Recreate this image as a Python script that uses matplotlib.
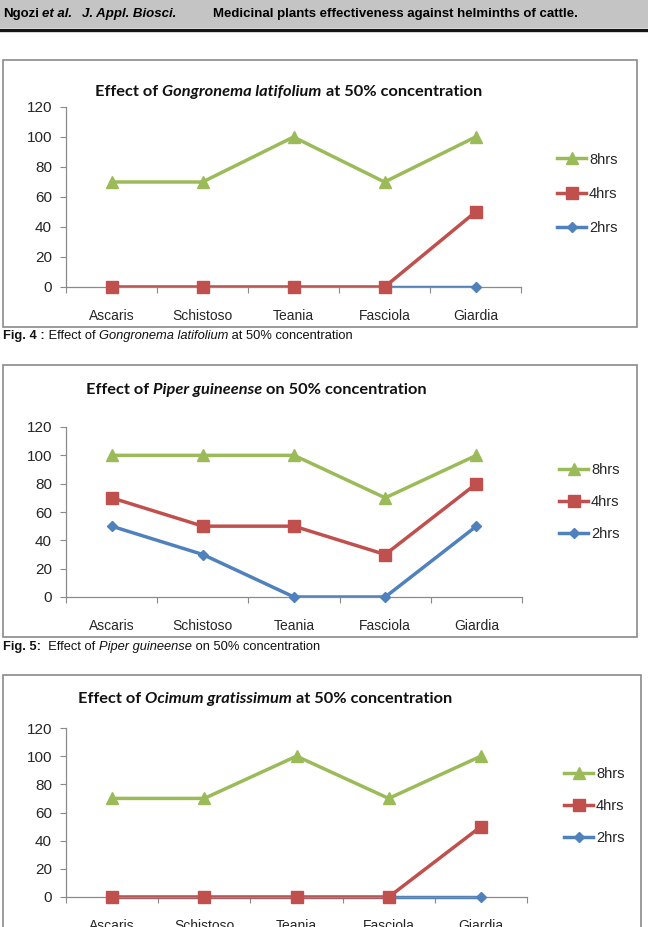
import matplotlib
matplotlib.use('Agg')
import matplotlib.pyplot as plt
from matplotlib.patches import Rectangle
from matplotlib.lines import Line2D

# data
worms = ['Ascaris', 'Schistoso', 'Teania', 'Fasciola', 'Giardia']
hours = ['8hrs', '4hrs', '2hrs']

gongronema_8h = [70, 70, 100, 70, 100]
gongronema_4h = [0, 0, 0, 0, 50]
gongronema_2h = [0, 0, 0, 0, 0]

piper_8h = [100, 100, 100, 70, 100]
piper_4h = [70, 50, 50, 30, 80]
piper_2h = [50, 30, 0, 0, 50]

ocimum_8h = [70, 70, 100, 70, 100]
ocimum_4h = [0, 0, 0, 0, 50]
ocimum_2h = [0, 0, 0, 0, 0]

yticks = [0, 20, 40, 60, 80, 100, 120]

colors = {'8hrs': '#9BBB59', '4hrs': '#C0504D', '2hrs': '#4F81BD'}
markers = {'8hrs': '^', '4hrs': 's', '2hrs': 'D'}
msizes = {'8hrs': 8, '4hrs': 8, '2hrs': 5.5}

W, H = 648, 927
SANS = ['Liberation Sans', 'DejaVu Sans']
CAL = ['Lato', 'DejaVu Sans']
TXT = '#262626'

fig = plt.figure(figsize=(W / 100, H / 100), dpi=100)
renderer = fig.canvas.get_renderer()


def fx(x):
    return x / W


def fy(y):
    return 1 - y / H


def runs(x, y, parts, size, family):
    # text pieces drawn one after the other (mixed bold / italic)
    cur = x
    for txt, weight, style in parts:
        t = fig.text(fx(cur), fy(y), txt, fontsize=size, family=family,
                     fontweight=weight, fontstyle=style, va='center', color='#111111')
        cur += t.get_window_extent(renderer).width


def box(x0, y0, x1, y1):
    fig.add_artist(Rectangle((fx(x0), fy(y1)), (x1 - x0) / W, (y1 - y0) / H,
                             transform=fig.transFigure, fill=False,
                             edgecolor='#8a8a8a', linewidth=1.2))


def chart(series, x0, x1, ybot, ytop, leg_x, leg_y, spacing, clip):
    ax = fig.add_axes([fx(x0), fy(ybot), (x1 - x0) / W, (ybot - ytop) / H])
    pos = [i + 0.5 for i in range(len(worms))]
    for name in ['2hrs', '4hrs', '8hrs']:
        vals = series[name]
        ax.plot(pos, vals, color=colors[name], lw=2.5, clip_on=clip, zorder=2)
        ax.plot(pos, vals, ls='none', marker=markers[name], ms=msizes[name],
                color=colors[name], clip_on=False, zorder=3)
    ax.set_xlim(0, len(worms))
    ax.set_ylim(0, 120)
    ax.set_yticks(yticks)
    ax.set_yticklabels([str(v) for v in yticks], fontsize=11, family=SANS, color=TXT)
    ax.set_xticks(range(len(worms) + 1))
    ax.set_xticklabels([])
    ax.set_xticks(pos, minor=True)
    ax.set_xticklabels(worms, minor=True, fontsize=10, family=SANS, color=TXT)
    ax.tick_params(axis='x', which='major', length=4, color='#8a8a8a', direction='out')
    ax.tick_params(axis='x', which='minor', length=0, pad=16)
    ax.tick_params(axis='y', length=4, color='#8a8a8a', pad=6)
    for s in ['top', 'right']:
        ax.spines[s].set_visible(False)
    for s in ['left', 'bottom']:
        ax.spines[s].set_color('#8a8a8a')
        ax.spines[s].set_linewidth(0.9)
    ax.patch.set_alpha(0)
    handles = [Line2D([], [], color=colors[h], lw=2.5, marker=markers[h], ms=msizes[h])
               for h in hours]
    leg = ax.legend(handles, hours, loc='center left',
                    bbox_to_anchor=((leg_x - x0) / (x1 - x0), (ybot - leg_y) / (ybot - ytop)),
                    frameon=False, prop={'family': SANS, 'size': 10.5},
                    handlelength=2.0, handletextpad=0.2, labelspacing=spacing,
                    borderpad=0, borderaxespad=0)
    for t in leg.get_texts():
        t.set_color(TXT)
    return ax


# header band
fig.add_artist(Rectangle((0, fy(28)), 1, 28 / H, transform=fig.transFigure,
                         facecolor='#c4c4c4', edgecolor='none'))
fig.add_artist(Line2D([0, 1], [fy(30), fy(30)], transform=fig.transFigure,
                      color='#151515', lw=2.4))
hdr = 9.5
fig.text(fx(3), fy(14), 'Ngozi', fontsize=hdr, family=SANS, fontweight='bold', va='center')
fig.text(fx(42), fy(14), 'et al.', fontsize=hdr, family=SANS, fontweight='bold',
         fontstyle='italic', va='center')
fig.text(fx(82), fy(14), 'J. Appl. Biosci.', fontsize=hdr, family=SANS, fontweight='bold',
         fontstyle='italic', va='center')
fig.text(fx(213), fy(14), 'Medicinal plants effectiveness against helminths of cattle.',
         fontsize=hdr, family=SANS, fontweight='bold', va='center')

# chart 1
box(3, 60, 637, 327)
chart({'8hrs': gongronema_8h, '4hrs': gongronema_4h, '2hrs': gongronema_2h},
      66, 521, 287, 107, 557, 194, 1.4, True)
runs(95, 92, [('Effect of ', 'bold', 'normal'), ('Gongronema latifolium', 'bold', 'italic'),
              (' at 50% concentration', 'bold', 'normal')], 11.8, CAL)
runs(3, 336, [('Fig. 4 :', 'bold', 'normal'), (' Effect of ', 'normal', 'normal'),
              ('Gongronema latifolium', 'normal', 'italic'),
              (' at 50% concentration', 'normal', 'normal')], 9.3, SANS)

# chart 2
box(3, 365, 637, 637)
chart({'8hrs': piper_8h, '4hrs': piper_4h, '2hrs': piper_2h},
      66, 522, 597, 427, 559, 502, 1.22, True)
runs(86, 390, [('Effect of ', 'bold', 'normal'), ('Piper guineense', 'bold', 'italic'),
               (' on 50% concentration', 'bold', 'normal')], 11.8, CAL)
runs(3, 647, [('Fig. 5:', 'bold', 'normal'), ('  Effect of ', 'normal', 'normal'),
              ('Piper guineense', 'normal', 'italic'),
              (' on 50% concentration', 'normal', 'normal')], 9.3, SANS)

# chart 3 (runs off the bottom of the page)
box(3, 675, 641, 940)
chart({'8hrs': ocimum_8h, '4hrs': ocimum_4h, '2hrs': ocimum_2h},
      66, 527, 897, 728, 564, 806, 1.22, False)
runs(78, 699, [('Effect of ', 'bold', 'normal'), ('Ocimum gratissimum', 'bold', 'italic'),
               (' at 50% concentration', 'bold', 'normal')], 11.8, CAL)

fig.savefig('out.png', dpi=100)
